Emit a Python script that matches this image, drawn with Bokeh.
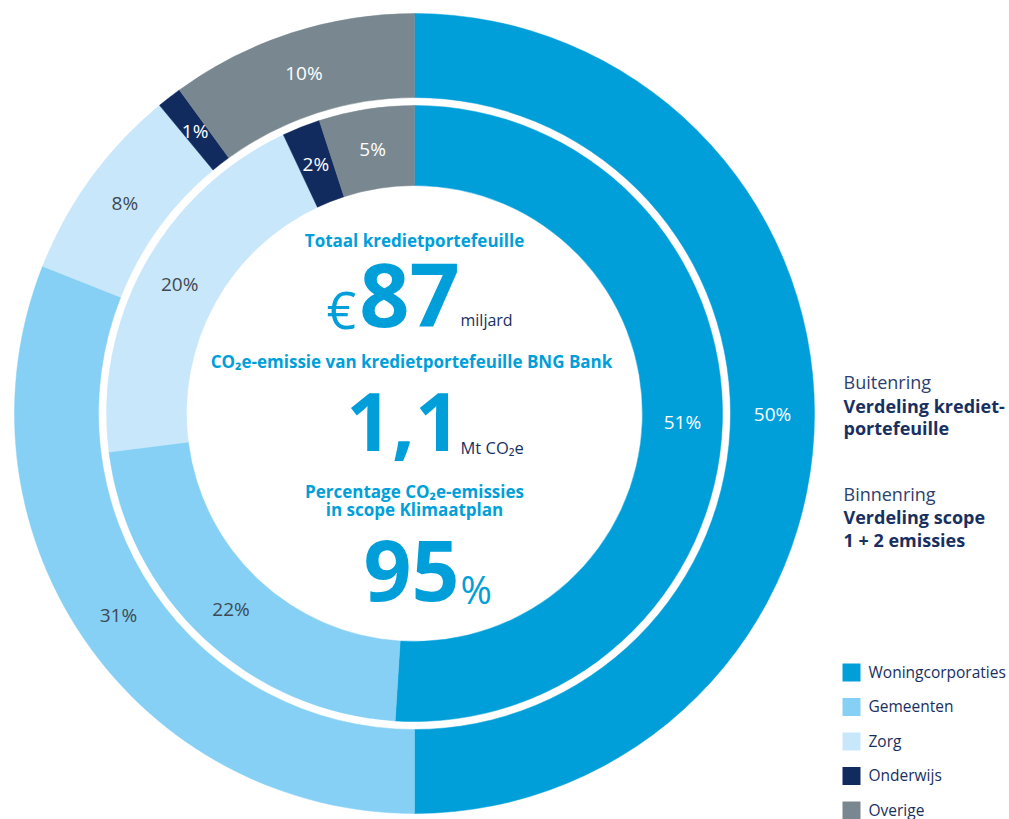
import math
from bokeh.plotting import figure
from bokeh.models import ColumnDataSource
from bokeh.core.properties import value
from bokeh.embed import file_html
from bokeh.resources import INLINE

# ---------------- data ----------------
categories = ["Woningcorporaties", "Gemeenten", "Zorg", "Onderwijs", "Overige"]
outer_values = [50, 31, 8, 1, 10]   # Buitenring: verdeling kredietportefeuille (%)
inner_values = [51, 22, 20, 2, 5]   # Binnenring: verdeling scope 1 + 2 emissies (%)
colors = ["#009FDA", "#85D0F4", "#C9E7FA", "#122B5F", "#798890"]
label_colors = ["#FFFFFF", "#3E4A54", "#3E4A54", "#FFFFFF", "#FFFFFF"]

# ---------------- layout ----------------
W, H = 1009, 819
FONT = "Open Sans"
BLUE = "#009FDA"
NAVY = "#18305F"

def px(x):   # page x -> data x
    return x

def py(y):   # page y -> data y (y up)
    return H - y

CX, CY = px(414), py(413)
R_OUT = (316, 400)
R_IN = (228, 308)

p = figure(width=W, height=H, x_range=(0, W), y_range=(0, H),
           x_axis_type=None, y_axis_type=None, min_border=0,
           toolbar_location=None, output_backend="svg")
p.grid.visible = False
p.outline_line_color = None
p.background_fill_color = "white"


def ring(values, r_in, r_out):
    total = float(sum(values))
    starts, ends, lx, ly, labels = [], [], [], [], []
    cum = 0.0
    rm = (r_in + r_out) / 2.0
    for v in values:
        a0 = math.pi / 2 - 2 * math.pi * cum / total
        cum += v
        a1 = math.pi / 2 - 2 * math.pi * cum / total
        starts.append(a0)
        ends.append(a1)
        am = (a0 + a1) / 2
        lx.append(CX + rm * math.cos(am))
        ly.append(CY + rm * math.sin(am))
        labels.append(f"{v}%")
    src = ColumnDataSource(dict(x=[CX] * len(values), y=[CY] * len(values),
                                start=starts, end=ends, color=colors,
                                lx=lx, ly=ly, label=labels, tc=label_colors))
    p.annular_wedge(x="x", y="y", inner_radius=r_in, outer_radius=r_out,
                    start_angle="start", end_angle="end", direction="clock",
                    fill_color="color", line_color="color", line_width=0.5,
                    source=src)
    p.text(x="lx", y="ly", text="label", text_color="tc",
           text_font=value(FONT), text_font_size="19px",
           text_align="center", text_baseline="middle", source=src)


ring(outer_values, *R_OUT)
ring(inner_values, *R_IN)


def txt(x, y, s, size, color, bold=False, align="left"):
    """y is the visual (cap) centre of the text line in page pixels."""
    p.text(x=[px(x)], y=[py(y)], text=[s], text_color=color,
           text_font=value(FONT), text_font_size=f"{size}px",
           text_font_style="bold" if bold else "normal",
           text_align=align, text_baseline="middle")

# center texts
txt(414, 240, "Totaal kredietportefeuille", 17, BLUE, True, "center")
txt(326, 308, "€", 52, BLUE, False, "left")
txt(409, 295, "87", 88, BLUE, True, "center")
txt(460, 319, "miljard", 16, NAVY)
txt(411, 361, "CO₂e-emissie van kredietportefeuille BNG Bank", 17, BLUE, True, "center")
txt(403, 421, "1,1", 80, BLUE, True, "center")
txt(460, 447, "Mt CO₂e", 16.5, NAVY)
txt(414, 491, "Percentage CO₂e-emissies", 17, BLUE, True, "center")
txt(414, 509, "in scope Klimaatplan", 17, BLUE, True, "center")
txt(411, 570, "95", 84, BLUE, True, "center")
txt(460, 588, "%", 38, BLUE, False, "left")

# right side descriptions
txt(843, 381, "Buitenring", 18, "#2C3F6E")
txt(843, 405, "Verdeling krediet-", 18, NAVY, True)
txt(843, 427, "portefeuille", 18, NAVY, True)
txt(843, 493, "Binnenring", 18, "#2C3F6E")
txt(843, 516, "Verdeling scope", 18, NAVY, True)
txt(843, 539, "1 + 2 emissies", 18, NAVY, True)

# legend
for i, (cat, col) in enumerate(zip(categories, colors)):
    yc = 672 + 34.5 * i
    p.rect(x=[px(851)], y=[py(yc)], width=18, height=18,
           fill_color=col, line_color=None)
    txt(868, yc - 1, cat, 15.5, NAVY)

open("out.html", "w").write(file_html(p, INLINE))
